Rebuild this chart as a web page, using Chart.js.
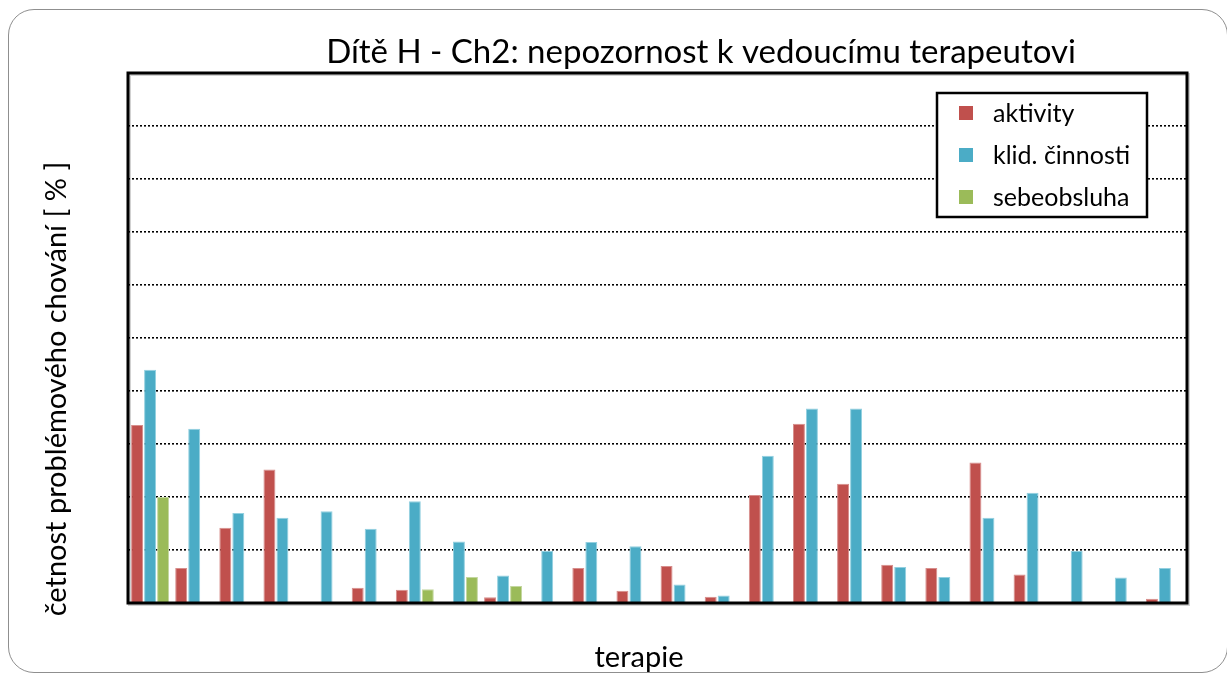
<!DOCTYPE html>
<html lang="cs">
<head>
<meta charset="utf-8">
<title>Dítě H - Ch2</title>
<script src="https://cdn.jsdelivr.net/npm/chart.js@4"></script>
<style>
  html, body { margin: 0; padding: 0; background: #ffffff; }
  #wrap { position: relative; width: 1227px; height: 673px; overflow: hidden; }
  #card {
    position: absolute; left: 8px; top: 9px; width: 1218px; height: 662px;
    border: 1.5px solid #8f8f8f; border-radius: 26px; background: #ffffff;
  }
  #chart { position: absolute; left: 0; top: 0; }
</style>
</head>
<body>
<div id="wrap">
  <div id="card"></div>
  <canvas id="chart" width="1227" height="673"></canvas>
</div>
<script>
// Terapie (sessions) 1–24
const categories = ['1','2','3','4','5','6','7','8','9','10','11','12',
                    '13','14','15','16','17','18','19','20','21','22','23','24'];

// Četnost problémového chování v % podle typu činnosti
const aktivity = [33.6, 6.6, 14.2, 25.2, null, 2.9, 2.5, null, 1.1, null, 6.6, 2.3,
                  7.0, 1.2, 20.4, 33.8, 22.5, 7.2, 6.6, 26.5, 5.4, null, null, 0.8];
const klidCinnosti = [44.0, 32.9, 17.0, 16.1, 17.3, 14.0, 19.2, 11.6, 5.2, 9.8, 11.5, 10.7,
                      3.5, 1.4, 27.8, 36.7, 36.7, 6.8, 4.9, 16.1, 20.8, 9.8, 4.8, 6.6];
const sebeobsluha = [20.0, null, null, null, null, null, 2.6, 4.9, 3.2, null, null, null,
                     null, null, null, null, null, null, null, null, null, null, null, null];

const seriesNames = ['aktivity', 'klid. činnosti', 'sebeobsluha'];
const seriesColors = ['#C0504D', '#4BACC6', '#9BBB59'];
const seriesEdges = ['#D78E8C', '#93D0E0', '#C3D79F'];

const titleText = 'Dítě H - Ch2: nepozornost k vedoucímu terapeutovi';
const yTitle = 'četnost problémového chování [ % ]';
const xTitle = 'terapie';

const FONT = 'Lato, "Open Sans", sans-serif';

// Title, axis titles, legend box and plot frame
const decor = {
  id: 'decor',
  afterDraw(chart) {
    const ctx = chart.ctx;
    const ca = chart.chartArea;
    ctx.save();

    // plot frame with a faint shadow
    ctx.strokeStyle = 'rgba(0,0,0,0.18)';
    ctx.lineWidth = 3;
    ctx.strokeRect(ca.left + 1.5, ca.top + 1.5, ca.right - ca.left, ca.bottom - ca.top);
    ctx.strokeStyle = '#000000';
    ctx.lineWidth = 3;
    ctx.strokeRect(ca.left, ca.top, ca.right - ca.left, ca.bottom - ca.top);

    // chart title
    ctx.fillStyle = '#000000';
    ctx.textBaseline = 'alphabetic';
    ctx.textAlign = 'center';
    ctx.font = '33px ' + FONT;
    ctx.fillText(titleText, 701, 63);

    // x axis title
    ctx.font = '29px ' + FONT;
    ctx.fillText(xTitle, 639, 667);

    // y axis title
    ctx.save();
    ctx.translate(66, 389);
    ctx.rotate(-Math.PI / 2);
    ctx.fillText(yTitle, 0, 0);
    ctx.restore();

    // legend
    const lx = 937, ly = 93, lw = 210, lh = 124;
    ctx.fillStyle = '#ffffff';
    ctx.fillRect(lx, ly, lw, lh);
    ctx.strokeStyle = '#000000';
    ctx.lineWidth = 2.5;
    ctx.strokeRect(lx, ly, lw, lh);
    ctx.font = '25px ' + FONT;
    ctx.textAlign = 'left';
    ctx.textBaseline = 'middle';
    const rows = [113, 155, 197];
    chart.data.datasets.forEach((ds, i) => {
      ctx.fillStyle = ds.backgroundColor;
      ctx.fillRect(959, rows[i] - 7, 14, 14);
      ctx.fillStyle = '#000000';
      ctx.fillText(ds.label, 993, rows[i] + 1);
    });

    ctx.restore();
  }
};

const datasets = [aktivity, klidCinnosti, sebeobsluha].map((values, i) => ({
  label: seriesNames[i],
  data: values,
  backgroundColor: seriesColors[i],
  borderColor: seriesEdges[i],
  borderWidth: { top: 1, left: 1, right: 1, bottom: 0 },
  borderSkipped: 'bottom',
  categoryPercentage: 0.884,
  barPercentage: 0.92
}));

new Chart(document.getElementById('chart'), {
  type: 'bar',
  data: { labels: categories, datasets },
  options: {
    responsive: false,
    animation: false,
    devicePixelRatio: 1,
    layout: { padding: { left: 128, top: 73, right: 40, bottom: 70 } },
    plugins: {
      legend: { display: false },
      title: { display: false },
      tooltip: { enabled: false }
    },
    scales: {
      x: {
        ticks: { display: false },
        grid: { display: false, drawTicks: false },
        border: { display: false }
      },
      y: {
        min: 0,
        max: 100,
        ticks: { display: false, stepSize: 10 },
        grid: { color: '#000000', lineWidth: 1.6, drawTicks: false, tickLength: 0 },
        border: { display: false, dash: [2, 2] }
      }
    }
  },
  plugins: [decor]
});
</script>
</body>
</html>
